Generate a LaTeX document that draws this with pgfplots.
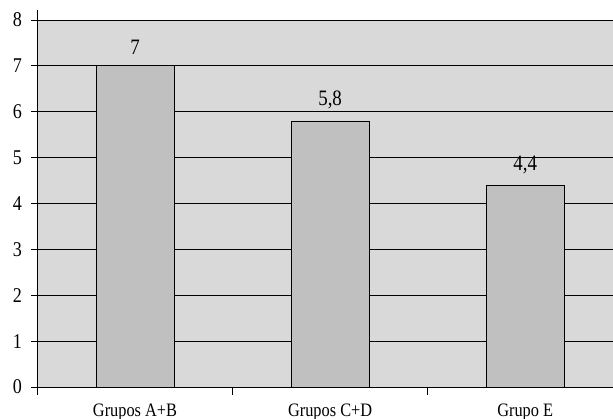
\documentclass[border=0pt]{standalone}
\usepackage{pgfplots}
\pgfplotsset{compat=1.18}
\usepackage{fontspec}
\setmainfont[FakeStretch=0.86]{Liberation Serif}
\definecolor{bgc}{HTML}{D9D9D9}
\definecolor{barc}{HTML}{C0C0C0}
\begin{document}
\begin{tikzpicture}
\begin{axis}[
  at={(37.5pt,32pt)}, anchor=south west,
  scale only axis,
  width=575.5pt, height=367pt,
  xmin=-0.5, xmax=2.45,
  ymin=0, ymax=8,
  axis x line*=bottom, axis y line*=left,
  axis line style={black, line width=0.8pt},
  axis background/.style={fill=bgc},
  ytick={0,1,...,8},
  xtick={0,1,2},
  xticklabels={Grupos A+B, Grupos C+D, Grupo E},
  minor xtick={-0.5,0.5,1.5},
  tick align=outside,
  major tick length=6pt,
  minor tick length=8pt,
  major x tick style={draw=none},
  tick style={black, line width=0.8pt},
  ymajorgrids,
  grid style={black, line width=0.8pt},
  /pgf/number format/assume math mode=true,
  xticklabel style={font=\fontsize{19}{21}\selectfont, yshift=-7pt},
  yticklabel style={font=\fontsize{21}{23}\selectfont, xshift=-6pt},
  ybar, bar width=0.4,
  nodes near coords,
  nodes near coords style={font=\fontsize{22}{24}\selectfont, yshift=8pt, /pgf/number format/use comma},
  clip=false,
]
\addplot[fill=barc, draw=black, line width=0.8pt] coordinates {(0,7) (1,5.8) (2,4.4)};
\draw[black, line width=0.8pt] (axis cs:-0.5,8) -- (axis cs:-0.5,8.22);
\end{axis}
\pgfresetboundingbox
\useasboundingbox (0,0) rectangle (613pt,419pt);
\end{tikzpicture}
\end{document}
